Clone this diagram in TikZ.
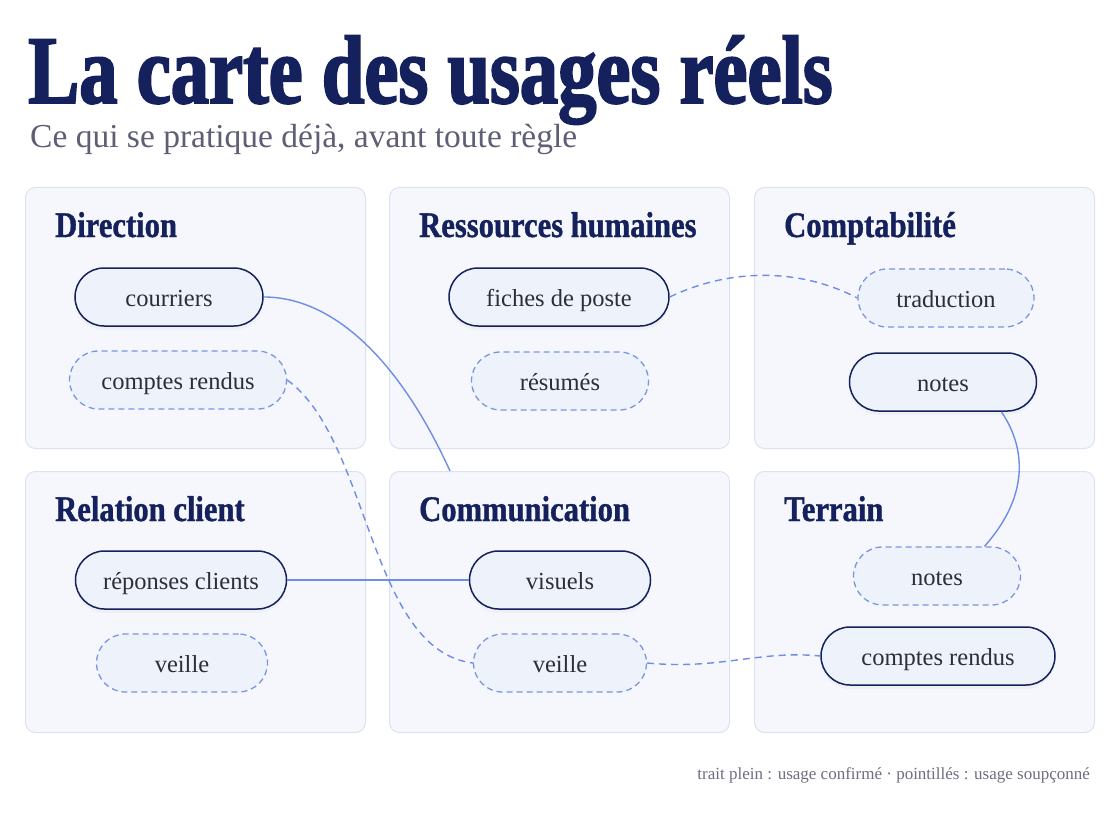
\documentclass[tikz,border=0pt]{standalone}
\usepackage{fontspec}
\setmainfont{Liberation Serif}
\newfontfamily\headfont{Liberation Serif}[FakeStretch=0.79, FakeBold=2]
\newfontfamily\cardfont{Liberation Serif}[FakeStretch=0.85, FakeBold=1]
\usetikzlibrary{shadows}

\definecolor{navy}{HTML}{15215C}
\definecolor{subgray}{HTML}{5E5E74}
\definecolor{panelfill}{HTML}{F5F7FC}
\definecolor{panelline}{HTML}{DCE3F0}
\definecolor{pillfill}{HTML}{EEF2FB}
\definecolor{pilltext}{HTML}{2E2E3A}
\definecolor{dashblue}{HTML}{7A96E0}
\definecolor{linkblue}{HTML}{6E8DE6}

\tikzset{
  panel/.style={draw=panelline, fill=panelfill, rounded corners=10pt, line width=1pt,
    minimum width=340pt, minimum height=261pt, anchor=north west, inner sep=0pt},
  paneltitle/.style={anchor=base west, inner sep=0pt, text=navy,
    font=\cardfont\bfseries\fontsize{36}{40}\selectfont},
  usage/.style={rounded corners=29pt, minimum height=58pt, inner sep=0pt,
    text height=18pt, text depth=0pt,
    fill=pillfill, text=pilltext, font=\fontsize{24.5}{28}\selectfont},
  confirmed/.style={usage, draw=navy, line width=1.5pt,
    drop shadow={opacity=0.06, shadow xshift=0pt, shadow yshift=-4pt}},
  suspected/.style={usage, draw=dashblue, line width=1.3pt, dash pattern=on 6pt off 4pt},
  link/.style={draw=linkblue, line width=1.4pt},
  maybe/.style={link, dash pattern=on 7pt off 5pt},
}

\begin{document}
\begin{tikzpicture}[x=1pt, y=-1pt]
  \fill[white] (0,0) rectangle (1120,840);
  \useasboundingbox (0,0) rectangle (1120,840);

  \node[anchor=base west, inner sep=0pt, text=navy,
    font=\headfont\bfseries\fontsize{97}{100}\selectfont] (title) at (28,103)
    {La carte des usages réels};
  \node[anchor=base west, inner sep=0pt, text=subgray,
    font=\fontsize{33.5}{38}\selectfont] (subtitle) at (30,148)
    {Ce qui se pratique déjà, avant toute règle};

  % departements
  \foreach \nm/\x/\y/\ttl in {dir/25/187/Direction, rh/389/187/Ressources humaines,
      compta/754/187/Comptabilité, rel/25/471/Relation client,
      comm/389/471/Communication, terr/754/471/Terrain} {
    \node[panel] (\nm) at (\x,\y) {};
    \node[paneltitle] (\nm-t) at (\x+30,\y+50) {\ttl};
  }

  % usages
  \node[confirmed, minimum width=188pt] (courriers) at (169,297) {courriers};
  \node[suspected, minimum width=217pt] (dircr) at (178,380) {comptes rendus};
  \node[confirmed, minimum width=220pt] (fiches) at (559,297) {fiches de poste};
  \node[suspected, minimum width=177pt] (resumes) at (560,381) {résumés};
  \node[suspected, minimum width=176pt] (traduction) at (946,298) {traduction};
  \node[confirmed, minimum width=187pt] (comptanotes) at (943,382) {notes};
  \node[confirmed, minimum width=211pt] (reponses) at (181,580) {réponses clients};
  \node[suspected, minimum width=171pt] (relveille) at (182,663) {veille};
  \node[confirmed, minimum width=181pt] (visuels) at (560,580) {visuels};
  \node[suspected, minimum width=173pt] (commveille) at (560,663) {veille};
  \node[suspected, minimum width=167pt] (terrnotes) at (937,576) {notes};
  \node[confirmed, minimum width=234pt] (terrcr) at (938,656) {comptes rendus};

  % liens
  \coordinate (commtop) at (450,471);
  \draw[link] (courriers.east) .. controls +(70,0) and +(-50,-110) .. (commtop);
  \draw[maybe] (dircr.east) .. controls +(83,60) and +(-104,-13) .. (commveille.west);
  \draw[maybe] (fiches.east) .. controls (730,268) and (800,268) .. (traduction.west);
  \draw[link] (comptanotes.-27) .. controls +(27,40) and +(42,-47) .. (terrnotes.32);
  \draw[link] (reponses.east) -- (visuels.west);
  \draw[maybe] (commveille.east) .. controls +(73,7) and +(-61,-6) .. (terrcr.west);

  \node[anchor=base east, inner sep=0pt, text=subgray!90,
    font=\fontsize{17}{20}\selectfont] (legende) at (1090,779)
    {trait plein : usage confirmé · pointillés : usage soupçonné};
\end{tikzpicture}
\end{document}
